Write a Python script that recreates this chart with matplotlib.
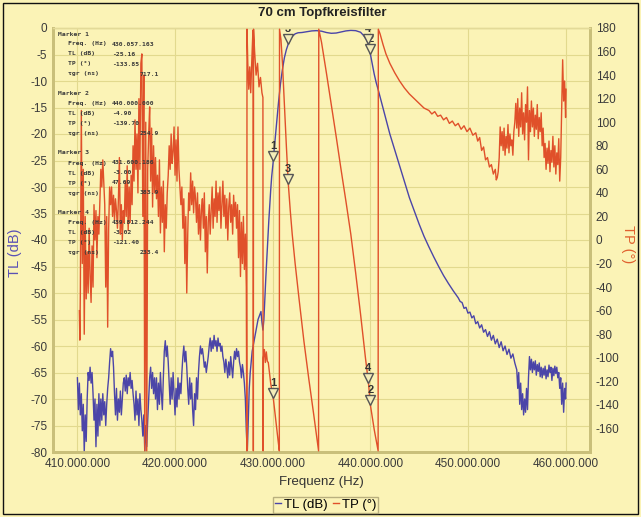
import matplotlib
matplotlib.use("Agg")
import matplotlib.pyplot as plt
from matplotlib.lines import Line2D
from matplotlib.patches import Rectangle
from matplotlib import transforms

# ---- data (frequency in MHz) ----
TL = [
    (410.0, -66), (410.1, -72), (410.2, -67), (410.3, -73), (410.4, -69),
    (410.5, -76), (410.6, -71), (410.7, -80), (410.8, -73), (410.9, -78),
    (411.0, -70), (411.1, -65), (411.2, -66.5), (411.3, -64), (411.4, -67), (411.5, -65), (411.6, -69),
    (411.7, -74), (411.8, -70), (411.9, -79), (412.0, -71), (412.1, -77), (412.2, -69), (412.3, -75),
    (412.4, -70), (412.5, -74), (412.6, -69), (412.7, -73), (412.8, -70.5), (412.9, -75), (413.0, -71),
    (413.1, -68), (413.2, -66), (413.3, -63), (413.4, -60.5), (413.5, -62), (413.6, -61), (413.7, -64),
    (413.8, -69), (413.9, -73), (414.0, -68), (414.1, -74), (414.2, -70), (414.3, -72.5), (414.4, -68.5),
    (414.5, -73), (414.6, -70), (414.7, -67), (414.8, -66), (414.9, -68.5), (415.0, -65.5), (415.1, -69),
    (415.2, -66), (415.3, -67.5), (415.4, -65), (415.5, -68), (415.6, -66.5), (415.7, -69),
    (415.8, -71), (415.9, -74), (416.0, -68.5), (416.1, -73), (416.2, -70), (416.3, -75), (416.4, -69),
    (416.5, -72), (416.6, -74), (416.7, -77), (416.8, -73), (416.9, -80), (417.0, -75), (417.1, -79),
    (417.2, -74), (417.3, -70), (417.4, -66), (417.5, -64), (417.6, -68), (417.7, -65), (417.8, -69),
    (417.9, -66), (418.0, -70), (418.1, -66), (418.2, -72), (418.3, -67), (418.4, -71), (418.5, -65),
    (418.6, -69), (418.7, -72), (418.8, -66), (418.9, -61), (419.0, -59), (419.1, -62), (419.2, -60),
    (419.3, -63), (419.4, -67), (419.5, -71), (419.6, -66), (419.7, -70), (419.8, -65), (419.9, -69),
    (420.0, -73), (420.1, -68), (420.2, -71.5), (420.3, -66), (420.4, -70), (420.5, -67), (420.6, -69),
    (420.7, -65), (420.8, -62), (420.9, -60), (421.0, -63), (421.1, -61), (421.2, -64), (421.3, -68),
    (421.4, -71), (421.5, -66), (421.6, -70), (421.7, -67), (421.8, -72), (421.9, -75), (422.0, -69),
    (422.1, -72), (422.2, -66), (422.3, -70), (422.4, -65), (422.5, -62), (422.6, -60), (422.7, -61.5),
    (422.8, -60.5), (422.9, -62), (423.0, -64), (423.1, -63), (423.2, -65), (423.3, -63.5), (423.4, -62),
    (423.5, -60), (423.6, -58.5), (423.7, -61), (423.8, -59), (423.9, -60.5), (424.0, -58), (424.1, -60),
    (424.2, -59), (424.3, -61), (424.4, -58.5), (424.5, -60), (424.6, -59.5), (424.7, -61), (424.8, -60),
    (424.9, -62), (425.0, -63), (425.1, -65), (425.2, -62.5), (425.3, -64), (425.4, -66), (425.5, -63),
    (425.6, -65.5), (425.7, -62), (425.8, -64), (425.9, -66), (426.0, -63), (426.1, -61), (426.2, -62.5),
    (426.3, -60.5), (426.4, -62), (426.5, -61), (426.6, -63), (426.7, -64), (426.8, -66), (426.9, -63.5),
    (427.0, -65), (427.1, -67), (427.2, -70), (427.3, -76), (427.4, -80), (427.5, -74), (427.6, -68),
    (427.7, -65), (427.8, -63), (427.9, -61), (428.0, -60), (428.1, -59), (428.2, -58), (428.3, -57),
    (428.4, -56), (428.5, -55), (428.6, -54.5), (428.7, -54), (428.8, -53.5), (428.9, -55.5), (429.0, -57),
    (429.1, -55), (429.2, -51), (429.3, -47), (429.4, -43.5), (429.5, -40), (429.6, -36.5), (429.7, -33.5),
    (429.8, -30.5), (429.9, -28), (430.057, -25.16), (430.2, -22), (430.4, -18), (430.6, -14),
    (430.8, -10.5), (431.0, -7.8), (431.2, -5.6), (431.4, -4.1), (431.6, -3.0), (431.8, -2.2),
    (432.0, -1.6), (432.3, -1.1), (432.6, -0.9), (433.0, -0.85), (433.5, -0.7), (434.0, -0.55),
    (434.5, -0.5), (435.0, -0.6), (435.5, -0.85), (436.0, -1.0), (436.5, -0.95), (437.0, -0.75),
    (437.5, -0.55), (438.0, -0.45), (438.5, -0.5), (439.0, -0.8), (439.3, -1.4), (439.6, -2.2),
    (439.812, -3.02), (440.0, -4.9), (440.2, -6.8), (440.4, -8.7), (440.6, -10.3), (440.8, -11.6),
    (441.0, -13), (441.5, -16.5), (442.0, -20), (442.5, -23), (443.0, -26), (443.5, -29), (444.0, -32),
    (444.5, -34.5), (445.0, -37), (445.5, -39.3), (446.0, -41.3), (446.5, -43.2), (447.0, -45),
    (447.5, -46.7), (448.0, -48.2), (448.5, -49.6), (449.0, -50.9), (449.2, -51.6), (449.4, -51.8),
    (449.6, -52.9), (449.8, -52.7), (450.0, -53.8), (450.2, -53.6), (450.4, -54.7), (450.6, -54.3),
    (450.8, -55.8), (451.0, -55.4), (451.2, -56.6), (451.4, -56.0), (451.6, -57.4), (451.8, -56.9),
    (452.0, -58.2), (452.2, -57.3), (452.4, -58.9), (452.6, -58.0), (452.8, -59.6), (453.0, -58.7),
    (453.2, -60.3), (453.4, -59.2), (453.6, -60.9), (453.8, -60.0), (454.0, -61.6), (454.2, -60.6),
    (454.4, -62.3), (454.6, -61.5), (454.8, -63.2), (455.0, -64.5), (455.1, -68), (455.2, -65),
    (455.3, -71), (455.4, -67), (455.5, -72), (455.6, -69), (455.7, -73), (455.8, -70), (455.9, -72.5),
    (456.0, -68), (456.1, -72), (456.2, -66), (456.3, -62), (456.4, -64.5), (456.5, -62.5), (456.6, -65),
    (456.7, -63), (456.8, -64.5), (456.9, -62.8), (457.0, -65.5), (457.1, -63.5), (457.2, -64.8),
    (457.3, -63.2), (457.4, -65.8), (457.5, -64), (457.6, -66), (457.7, -64.2), (457.8, -65.5),
    (457.9, -63.8), (458.0, -66.2), (458.1, -64.5), (458.2, -65.8), (458.3, -63.6), (458.4, -65),
    (458.5, -64), (458.6, -66.5), (458.7, -64.2), (458.8, -65.6), (458.9, -63.8), (459.0, -65.2),
    (459.1, -64), (459.2, -66), (459.3, -65), (459.4, -68), (459.5, -66), (459.6, -71), (459.7, -67),
    (459.8, -72.5), (459.9, -68), (460.0, -70), (460.05, -67),
]

TP = [
    (410.2, -60), (410.25, -85), (410.3, -45), (410.4, 110), (410.5, -20), (410.6, 60), (410.7, -80),
    (410.8, 20), (410.9, -50), (411.0, -10), (411.1, -45), (411.2, 10), (411.3, -30), (411.4, -53),
    (411.5, -5), (411.6, -40), (411.7, 30), (411.8, 0), (411.9, 25), (412.0, -15), (412.1, 20),
    (412.2, 5), (412.3, 34), (412.4, 60), (412.5, 45), (412.6, 68), (412.7, 50), (412.8, 30),
    (412.9, -40), (413.0, 20), (413.1, -74), (413.2, 10), (413.3, 45), (413.4, 30), (413.5, 45),
    (413.6, 20), (413.7, 38), (413.8, 17), (413.9, 35), (414.0, 25), (414.1, 10), (414.2, 35),
    (414.3, 70), (414.4, 5), (414.5, 30), (414.6, 0), (414.7, 25), (414.8, 15), (414.9, 50),
    (415.0, 20), (415.1, 63), (415.2, 8), (415.3, 45), (415.4, 15), (415.5, 55), (415.6, 30),
    (415.7, 80), (415.8, 50), (415.9, 102), (416.0, 60), (416.1, 90), (416.2, 40), (416.3, 120),
    (416.4, 60), (416.5, 150), (416.6, 158), (416.7, 20), (416.8, 140), (416.9, -179), (417.0, 100),
    (417.1, -179), (417.2, 60), (417.3, 90), (417.4, 113), (417.5, 50), (417.6, 95), (417.7, 28),
    (417.8, 80), (417.9, 40), (418.0, 70), (418.1, 35), (418.2, 55), (418.3, 20), (418.4, 68),
    (418.5, 6), (418.6, 45), (418.7, 15), (418.8, 50), (418.9, -10), (419.0, 30), (419.1, 10),
    (419.2, 40), (419.3, 55), (419.4, 80), (419.5, 60), (419.6, 90), (419.7, 65), (419.8, 75),
    (419.9, 96), (420.0, 55), (420.1, 85), (420.2, 50), (420.3, 96), (420.4, 60), (420.5, 45),
    (420.6, 30), (420.7, 45), (420.8, 10), (420.9, 35), (421.0, -20), (421.1, 20), (421.2, -45),
    (421.3, 5), (421.4, 40), (421.5, 25), (421.6, 57), (421.7, 30), (421.8, 50), (421.9, 23),
    (422.0, 45), (422.1, 35), (422.2, 15), (422.3, 40), (422.4, 5), (422.5, 30), (422.6, 0),
    (422.7, 25), (422.8, 35), (422.9, 10), (423.0, 40), (423.1, -10), (423.2, 20), (423.3, -28),
    (423.4, 15), (423.5, 30), (423.6, 5), (423.7, 25), (423.8, 45), (423.9, 10), (424.0, 35),
    (424.1, 20), (424.2, 50), (424.3, 15), (424.4, 40), (424.5, 25), (424.6, 45), (424.7, 10),
    (424.8, 30), (424.9, 50), (425.0, 20), (425.1, 38), (425.2, 10), (425.3, 35), (425.4, 0),
    (425.5, 28), (425.6, 40), (425.7, 15), (425.8, 30), (425.9, 5), (426.0, 38), (426.1, 20),
    (426.2, 32), (426.3, 10), (426.4, 30), (426.5, -15), (426.6, 25), (426.7, -31), (426.8, 15),
    (426.9, -20), (427.0, 20), (427.1, -25), (427.2, 5), (427.3, -40),
    (427.35, -179), (427.37, 179), (427.45, 150), (427.55, 128), (427.65, 147), (427.75, 125),
    (427.85, 150), (427.95, 172), (428.0, 178), (428.02, -179), (428.04, 179), (428.15, 160),
    (428.3, 140), (428.45, 150), (428.6, 130), (428.75, 138), (428.9, 125), (429.0, 121),
    (429.02, -179), (429.05, -100), (429.15, -93), (429.25, -104), (429.35, -95), (429.45, -103),
    (429.55, -104), (429.8, -122), (430.057, -133.85), (430.3, -152), (430.55, -170), (430.68, -179),
    (430.7, 179), (430.85, 170), (431.0, 150), (431.2, 115), (431.4, 80), (431.6, 47.69),
    (431.8, 25), (432.0, 5), (432.3, -20), (432.7, -50), (433.2, -86), (433.7, -118), (434.2, -148),
    (434.7, -179), (434.72, 179), (435.0, 168), (435.5, 142), (436.0, 115), (436.5, 88), (437.0, 60),
    (437.5, 33), (438.0, 5), (438.5, -28), (439.0, -63), (439.5, -100), (439.812, -121.4),
    (440.0, -139.7), (440.4, -161), (440.8, -179), (440.82, 179), (441.0, 175), (441.3, 166),
    (441.6, 158), (442.0, 150), (442.5, 142), (443.0, 135), (443.5, 129), (444.0, 124), (444.5, 120),
    (445.0, 116), (445.5, 112), (446.0, 110), (446.3, 107), (446.6, 109), (446.9, 105), (447.2, 106),
    (447.5, 102), (447.8, 104), (448.1, 99), (448.4, 101), (448.7, 97), (449.0, 99), (449.3, 94),
    (449.6, 97), (449.9, 92), (450.2, 95), (450.5, 89), (450.8, 91), (451.0, 84), (451.2, 87),
    (451.4, 76), (451.6, 79), (451.8, 68), (452.0, 70), (452.2, 62), (452.4, 64), (452.6, 56),
    (452.8, 60), (452.9, 51), (453.0, 53), (453.1, 58), (453.2, 70), (453.3, 96), (453.4, 80),
    (453.5, 92), (453.6, 76), (453.7, 95), (453.8, 72), (453.9, 88), (454.0, 78), (454.1, 98),
    (454.2, 74), (454.3, 90), (454.4, 80), (454.5, 85), (454.6, 72), (454.7, 92), (454.8, 100),
    (454.9, 116), (455.0, 95), (455.1, 120), (455.2, 88), (455.3, 112), (455.4, 96), (455.5, 125),
    (455.6, 90), (455.7, 108), (455.8, 85), (455.9, 115), (456.0, 100), (456.1, 130), (456.2, 68),
    (456.3, 110), (456.4, 92), (456.5, 118), (456.6, 96), (456.7, 112), (456.8, 88), (456.9, 106),
    (457.0, 94), (457.1, 115), (457.2, 86), (457.3, 104), (457.4, 92), (457.5, 108), (457.6, 80),
    (457.7, 95), (457.8, 70), (457.9, 82), (458.0, 60), (458.1, 78), (458.2, 65), (458.3, 84),
    (458.4, 58), (458.5, 76), (458.6, 66), (458.7, 88), (458.8, 62), (458.9, 80), (459.0, 56),
    (459.1, 74), (459.2, 64), (459.3, 86), (459.4, 50), (459.5, 70), (459.6, 110), (459.7, 153),
    (459.8, 118), (459.9, 135), (460.0, 104), (460.05, 128),
]

MARKER_ID = [1, 2, 3, 4]
MARKER_FREQ = [430.057163, 440.000000, 431.600186, 439.812244]
MARKER_TL = [-25.16, -4.90, -3.00, -3.02]
MARKER_TP = [-133.85, -139.70, 47.69, -121.40]
MARKER_TGR = [717.1, 254.9, 383.9, 233.4]

X_TICKS = [410, 420, 430, 440, 450, 460]
TL_TICKS = [0, -5, -10, -15, -20, -25, -30, -35, -40, -45, -50, -55, -60, -65, -70, -75, -80]
TP_TICKS = [180, 160, 140, 120, 100, 80, 60, 40, 20, 0, -20, -40, -60, -80, -100, -120, -140, -160]

BG = '#FBF3B6'
BLUE = '#4B45A8'
RED = '#E0502A'
SPINE = '#C9BF7A'

plt.rcParams['font.family'] = ['Liberation Sans', 'DejaVu Sans']

fig = plt.figure(figsize=(6.41, 5.17), dpi=100, facecolor=BG)
ax = fig.add_axes([53 / 641, 1 - 452 / 517, (590 - 53) / 641, (452 - 28) / 517])
ax.set_facecolor(BG)
ax2 = ax.twinx()

f_tl = [p[0] for p in TL]
v_tl = [p[1] for p in TL]
f_tp = [p[0] for p in TP]
v_tp = [p[1] for p in TP]

ax.plot(f_tl, v_tl, color=BLUE, lw=1.0, zorder=3)
ax2.plot(f_tp, v_tp, color=RED, lw=1.0, zorder=3)

ax.set_xlim(407.5, 462.5)
ax.set_ylim(-80, 0)
ax2.set_ylim(-180, 180)

ax.set_xticks(X_TICKS)
ax.set_xticklabels([f"{int(round(v * 1e6)):,}".replace(',', '.') for v in X_TICKS])
ax.set_yticks(TL_TICKS)
ax.set_yticklabels([str(t) for t in TL_TICKS])
ax2.set_yticks(TP_TICKS)
ax2.set_yticklabels([str(t) for t in TP_TICKS])

for a in (ax, ax2):
    a.tick_params(length=0, labelsize=8.5, labelcolor='#3a3a3a', pad=4)
    for s in ('left', 'right', 'bottom'):
        a.spines[s].set_color(SPINE)
        a.spines[s].set_linewidth(2)
    a.spines['top'].set_color('#E3DA98')
    a.spines['top'].set_linewidth(1)

ax.grid(True, color='#E2D98E', lw=0.8, zorder=0)
ax.set_axisbelow(True)

ax.set_xlabel('Frequenz (Hz)', fontsize=9.5, color='#333333')
ax.xaxis.set_label_coords(0.5, -0.056)
ax.set_ylabel('TL (dB)', fontsize=10.5, color='#5A50B4', va='center')
ax.yaxis.set_label_coords(-0.071, 0.47)
ax2.set_ylabel('TP (°)', fontsize=10.5, color='#E0602E', rotation=270, va='center')
ax2.yaxis.set_label_coords(1.071, 0.49)
fig.text(0.503, 0.975, '70 cm Topfkreisfilter', ha='center', va='center',
         fontsize=9.5, fontweight='bold', color='#222222')

# marker triangles + numbers
tri_tl = transforms.offset_copy(ax.transData, fig=fig, x=0, y=5, units='dots')
num_tl = transforms.offset_copy(ax.transData, fig=fig, x=0, y=15, units='dots')
tri_tp = transforms.offset_copy(ax2.transData, fig=fig, x=0, y=5, units='dots')
num_tp = transforms.offset_copy(ax2.transData, fig=fig, x=0, y=15, units='dots')
for mid, mf, mtl, mtp in zip(MARKER_ID, MARKER_FREQ, MARKER_TL, MARKER_TP):
    ax.plot([mf], [mtl], marker='v', ms=7.5, mfc='#F4EDB8', mec='#555555', mew=1,
            transform=tri_tl, clip_on=False, zorder=6)
    ax.text(mf, mtl, str(mid), transform=num_tl, ha='center', va='center', fontsize=8,
            fontweight='bold', color='#333333', zorder=6, clip_on=True)
    ax2.plot([mf], [mtp], marker='v', ms=7.5, mfc='#F4EDB8', mec='#555555', mew=1,
             transform=tri_tp, clip_on=False, zorder=6)
    ax2.text(mf, mtp, str(mid), transform=num_tp, ha='center', va='center', fontsize=8,
             fontweight='bold', color='#333333', zorder=6)

# marker readout block
y0 = 34
for k, mid in enumerate(MARKER_ID):
    top = y0 + k * 59.5
    rows = [
        (f"Marker {mid}", 58, ''),
        ("Freq. (Hz)", 68, f"{int(round(MARKER_FREQ[k] * 1e6)):,}".replace(',', '.')),
        ("TL (dB)", 68, f"{MARKER_TL[k]:.2f}"),
        ("TP (°)", 68, f"{MARKER_TP[k]:.2f}"),
        ("τgr (ns)", 68, f"{MARKER_TGR[k]:.1f}"),
    ]
    for r, (lab, xx, val) in enumerate(rows):
        yy = 1 - (top + r * 10) / 517
        fig.text(xx / 641, yy, lab, fontsize=4.6, fontweight='bold', family='DejaVu Sans Mono',
                 color='#3a3a3a', va='center')
        if val:
            xv = 112 if r < 4 else 140
            fig.text(xv / 641, yy, val, fontsize=4.6, fontweight='bold', family='DejaVu Sans Mono',
                     color='#3a3a3a', va='center')

handles = [Line2D([], [], color=BLUE, lw=1), Line2D([], [], color=RED, lw=1)]
leg = fig.legend(handles, ['TL (dB)', 'TP (°)'], loc='lower center', bbox_to_anchor=(0.508, 4 / 517),
                 ncol=2, fontsize=9.5, handlelength=0.5, handletextpad=0.2, columnspacing=0.4,
                 frameon=True, fancybox=False, borderpad=0.15, borderaxespad=0, facecolor=BG)
leg.get_frame().set_edgecolor('#A9A070')
leg.get_frame().set_linewidth(1)

fig.patches.append(Rectangle((3 / 641, 3 / 517), 635 / 641, 511 / 517, transform=fig.transFigure,
                             fill=False, ec='#111111', lw=1))

fig.savefig('out.png', dpi=100, facecolor=BG)
